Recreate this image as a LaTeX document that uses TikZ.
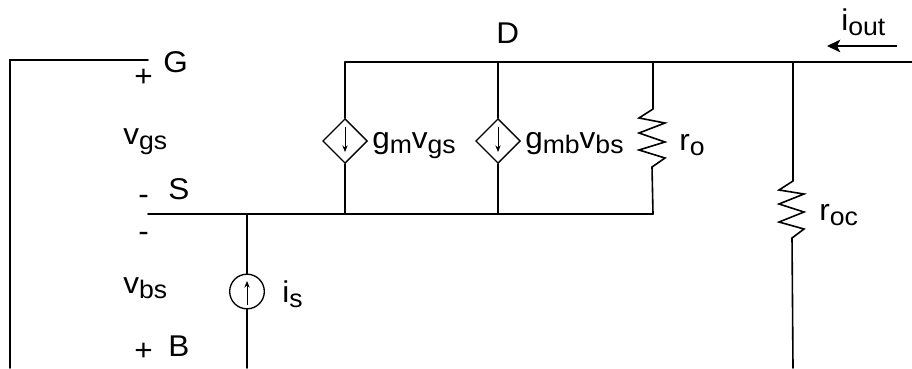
\documentclass[tikz,border=0pt]{standalone}
\usepackage{fontspec}
\setmainfont[FakeStretch=1.05]{Liberation Sans}
\usetikzlibrary{shapes.geometric, arrows.meta, positioning}
\newcommand{\subs}[1]{\raisebox{-3.75pt}{\fontsize{19pt}{19pt}\selectfont #1}}
\begin{document}
\begin{tikzpicture}[
    x=0.75pt, y=-0.75pt,
    wire/.style={draw, line width=1.2pt, line cap=round},
    txt/.style={inner sep=0pt, font=\fontsize{22.5pt}{22.5pt}\selectfont, anchor=base west},
    depsource/.style={draw, line width=1pt, fill=white, diamond, aspect=1, minimum size=33.5pt, inner sep=0pt},
    cursource/.style={draw, line width=1pt, fill=white, circle, minimum size=26pt, inner sep=0pt},
    flow/.style={-{Stealth[length=5pt, width=4pt]}, line width=0.6pt},
    iarrow/.style={-{Stealth[length=10pt, width=9.5pt, inset=2.5pt]}, line width=1.2pt}
]
    \useasboundingbox (0,0) rectangle (912,368);

    % Rail points
    \coordinate (gend) at (148,60);
    \coordinate (gcorner) at (10,60);
    \coordinate (gfoot) at (10,368);
    \coordinate (dleft) at (345,62);
    \coordinate (dmid) at (498,62);
    \coordinate (dres) at (653,62);
    \coordinate (dout) at (793,62);
    \coordinate (dright) at (912,62);
    \coordinate (send) at (148,214);
    \coordinate (sis) at (247,214);
    \coordinate (sleft) at (345,214);
    \coordinate (smid) at (498,214);
    \coordinate (sright) at (653,214);
    \coordinate (isfoot) at (247,368);
    \coordinate (outfoot) at (793,368);

    % Sources
    \node[depsource] (gmsrc) at (345,141) {};
    \node[depsource] (gmbsrc) at (498,141) {};
    \node[cursource] (issrc) at (247,291.5) {};
    \draw[flow] (345,127) -- (345,152);
    \draw[flow] (498,127) -- (498,152);
    \draw[flow] (247,305) -- (247,281);

    % Wires
    \draw[wire] (gend) -- (gcorner) -- (gfoot);
    \draw[wire] (dleft) -- (dright);
    \draw[wire] (send) -- (sright);
    \draw[wire] (dleft) -- (gmsrc) -- (sleft);
    \draw[wire] (dmid) -- (gmbsrc) -- (smid);
    \draw[wire] (sis) -- (issrc) -- (isfoot);

    % Resistors
    \draw[wire] (dres) -- (653,109) -- (639,118) -- (665,123) -- (639,133) -- (665,142) -- (639,150) -- (665,158) -- (652,167) -- (sright);
    \draw[wire] (dout) -- (793,181) -- (779,190) -- (804,194) -- (779,204) -- (804,212) -- (779,222) -- (804,229) -- (792,238) -- (outfoot);

    % Labels
    \node[txt] (glabel) at (163,72) {G};
    \node[txt] (dlabel) at (496,43) {D};
    \node[txt] (slabel) at (168,199) {S};
    \node[txt] (blabel) at (168,356) {B};
    \node[txt] (vgs) at (123,144) {v\subs{gs}};
    \node[txt] (vbs) at (123,293) {v\subs{bs}};
    \node[txt] (gmv) at (372,148) {g\subs{m}v\subs{gs}};
    \node[txt] (gmbv) at (525,148) {g\subs{mb}v\subs{bs}};
    \node[txt] (ro) at (679,150) {r\subs{o}};
    \node[txt] (roc) at (819,220) {r\subs{oc}};
    \node[txt] (is) at (282,302) {i\subs{s}};
    \node[txt] (iout) at (841,30) {i\subs{out}};
    \node[txt] (gplus) at (134,86) {+};
    \node[txt] (sminus) at (138,204) {-};
    \node[txt] (bminus) at (138,241) {-};
    \node[txt] (bplus) at (134,360) {+};

    % Output current
    \coordinate (iouta) at (897,46);
    \coordinate (ioutb) at (827,46);
    \draw[iarrow] (iouta) -- (ioutb);
\end{tikzpicture}
\end{document}
